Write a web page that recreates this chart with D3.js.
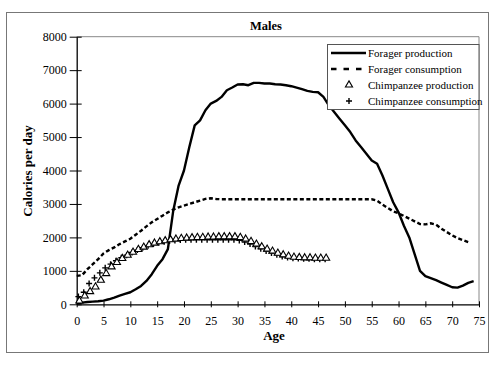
<!DOCTYPE html>
<html><head><meta charset="utf-8">
<script src="https://cdn.jsdelivr.net/npm/d3@7"></script>
<style>body{margin:0;background:#fff}svg{display:block}text{font-family:"Liberation Serif","Times New Roman",serif}</style>
</head><body><svg id="c" width="496" height="366"></svg>
<script>
const title = "Males";
const xLabel = "Age";
const yLabel = "Calories per day";
const xTicks = d3.range(0, 80, 5);
const yTicks = d3.range(0, 9000, 1000);
const seriesNames = ["Forager production","Forager consumption","Chimpanzee production","Chimpanzee consumption"];

const foragerAges = d3.range(0, 75);
const foragerProduction = [30,50,70,80,90,110,150,200,260,310,360,450,550,700,900,1150,1350,1650,2800,3550,4000,4700,5350,5500,5800,6000,6080,6200,6400,6480,6570,6580,6550,6620,6620,6600,6600,6580,6570,6550,6520,6480,6430,6380,6350,6340,6200,5950,5750,5550,5350,5150,4900,4700,4500,4300,4200,3850,3450,3050,2750,2350,2000,1500,1000,840,780,720,650,580,510,500,560,640,690];
const foragerConsumptionAges = d3.range(0, 74);
const foragerConsumption = [850,870,1050,1200,1350,1520,1620,1700,1800,1880,1960,2080,2200,2330,2450,2550,2650,2750,2830,2900,2950,3000,3050,3100,3150,3170,3150,3140,3140,3140,3140,3140,3140,3140,3140,3140,3140,3140,3140,3140,3140,3140,3140,3140,3140,3140,3140,3140,3140,3140,3140,3140,3140,3140,3140,3140,3100,2980,2880,2780,2720,2640,2560,2480,2400,2390,2420,2380,2260,2160,2060,1980,1920,1860];
const chimpAges = d3.range(0.5, 47, 1);
const chimpProduction = [100,250,380,520,720,920,1120,1250,1370,1470,1560,1640,1710,1780,1830,1870,1900,1930,1950,1970,1980,1990,2000,2000,2010,2010,2020,2020,2020,2020,2000,1950,1880,1800,1720,1650,1590,1530,1480,1440,1410,1400,1390,1390,1380,1380,1380];
const chimpConsumption = [230,360,620,790,940,1090,1200,1300,1390,1470,1550,1620,1690,1750,1800,1840,1870,1890,1910,1920,1930,1930,1930,1930,1930,1930,1930,1930,1930,1930,1910,1860,1800,1730,1660,1590,1530,1480,1430,1400,1380,1370,1360,1360,1350,1350,1350];

const svg = d3.select("#c");
const L = 76.7, R = 479, T = 36.7, B = 304.3;
const x = d3.scaleLinear().domain([0, 75]).range([L, R]);
const y = d3.scaleLinear().domain([0, 8000]).range([B, T]);

// outer frame
svg.append("rect").attr("x", 6.5).attr("y", 12.5).attr("width", 482).attr("height", 340)
  .attr("fill", "none").attr("stroke", "#777").attr("stroke-width", 1);
// plot border (top/right)
svg.append("path").attr("d", `M${L},${T}H${R}V${B}`).attr("fill","none").attr("stroke","#888").attr("stroke-width",1);

// axes
const yAxis = d3.axisLeft(y).tickValues(yTicks).tickFormat(d3.format("d")).tickSizeInner(7).tickSizeOuter(0).tickPadding(3);
const gy = svg.append("g").attr("transform", `translate(${L},0)`).call(yAxis);
gy.selectAll(".tick line").attr("x2", -7).attr("x1", 5);
const xAxis = d3.axisBottom(x).tickValues(xTicks).tickSizeInner(3).tickSizeOuter(0).tickPadding(9);
const gx = svg.append("g").attr("transform", `translate(0,${B})`).call(xAxis);
gx.selectAll(".tick line").attr("y1", -3).attr("y2", 3);
[gx, gy].forEach(g => {
  g.select(".domain").attr("stroke", "#000").attr("stroke-width", 1.3);
  g.selectAll(".tick line").attr("stroke", "#000").attr("stroke-width", 1);
  g.selectAll("text").attr("font-size", 12).attr("fill", "#000").attr("font-family", "Liberation Serif");
});

// title & labels
svg.append("text").attr("x", 266).attr("y", 30).attr("text-anchor","middle").attr("font-size",12.5).attr("font-weight","bold").text(title);
svg.append("text").attr("x", 274).attr("y", 340).attr("text-anchor","middle").attr("font-size",13).attr("font-weight","bold").text(xLabel);
svg.append("text").attr("transform","translate(32,171) rotate(-90)").attr("text-anchor","middle").attr("font-size",13).attr("font-weight","bold").text(yLabel);

// lines
const line = d3.line().x(d => x(d[0])).y(d => y(d[1]));
svg.append("path").datum(foragerConsumptionAges.map((a,i)=>[a, foragerConsumption[i]]))
  .attr("d", line).attr("fill","none").attr("stroke","#000").attr("stroke-width",2.4).attr("stroke-dasharray","4,2.5");
svg.append("path").datum(foragerAges.map((a,i)=>[a, foragerProduction[i]]))
  .attr("d", line).attr("fill","none").attr("stroke","#000").attr("stroke-width",2.4).attr("stroke-linejoin","round");

// markers
const tri = d3.symbol().type(d3.symbolTriangle).size(22);
const plus = "M-3,0H3M0,-3V3";
svg.append("g").selectAll("path").data(chimpAges.map((a,i)=>[a, chimpConsumption[i]])).join("path")
  .attr("transform", d => `translate(${x(d[0])-1},${y(d[1])})`).attr("d", plus)
  .attr("stroke","#000").attr("stroke-width",1.4).attr("fill","none");
svg.append("g").selectAll("path").data(chimpAges.map((a,i)=>[a, chimpProduction[i]])).join("path")
  .attr("transform", d => `translate(${x(d[0])},${y(d[1])})`).attr("d", tri)
  .attr("stroke","#000").attr("stroke-width",1.1).attr("fill","#fff");

// legend
const lg = svg.append("g");
lg.append("rect").attr("x", 327.5).attr("y", 44.5).attr("width", 151.5).attr("height", 65)
  .attr("fill","#fff").attr("stroke","#555").attr("stroke-width",1);
const rows = [53, 69, 85, 101];
lg.append("line").attr("x1",331).attr("x2",366).attr("y1",rows[0]).attr("y2",rows[0]).attr("stroke","#000").attr("stroke-width",2.4);
lg.append("line").attr("x1",331).attr("x2",366).attr("y1",rows[1]).attr("y2",rows[1]).attr("stroke","#000").attr("stroke-width",2.4).attr("stroke-dasharray","5.5,7");
lg.append("path").attr("transform",`translate(349,${rows[2]})`).attr("d", tri).attr("stroke","#000").attr("stroke-width",1.1).attr("fill","#fff");
lg.append("path").attr("transform",`translate(349,${rows[3]})`).attr("d", plus).attr("stroke","#000").attr("stroke-width",1.4);
seriesNames.forEach((n,i)=>{
  lg.append("text").attr("x",368).attr("y",rows[i]+4).attr("font-size",11).text(n);
});
</script></body></html>
